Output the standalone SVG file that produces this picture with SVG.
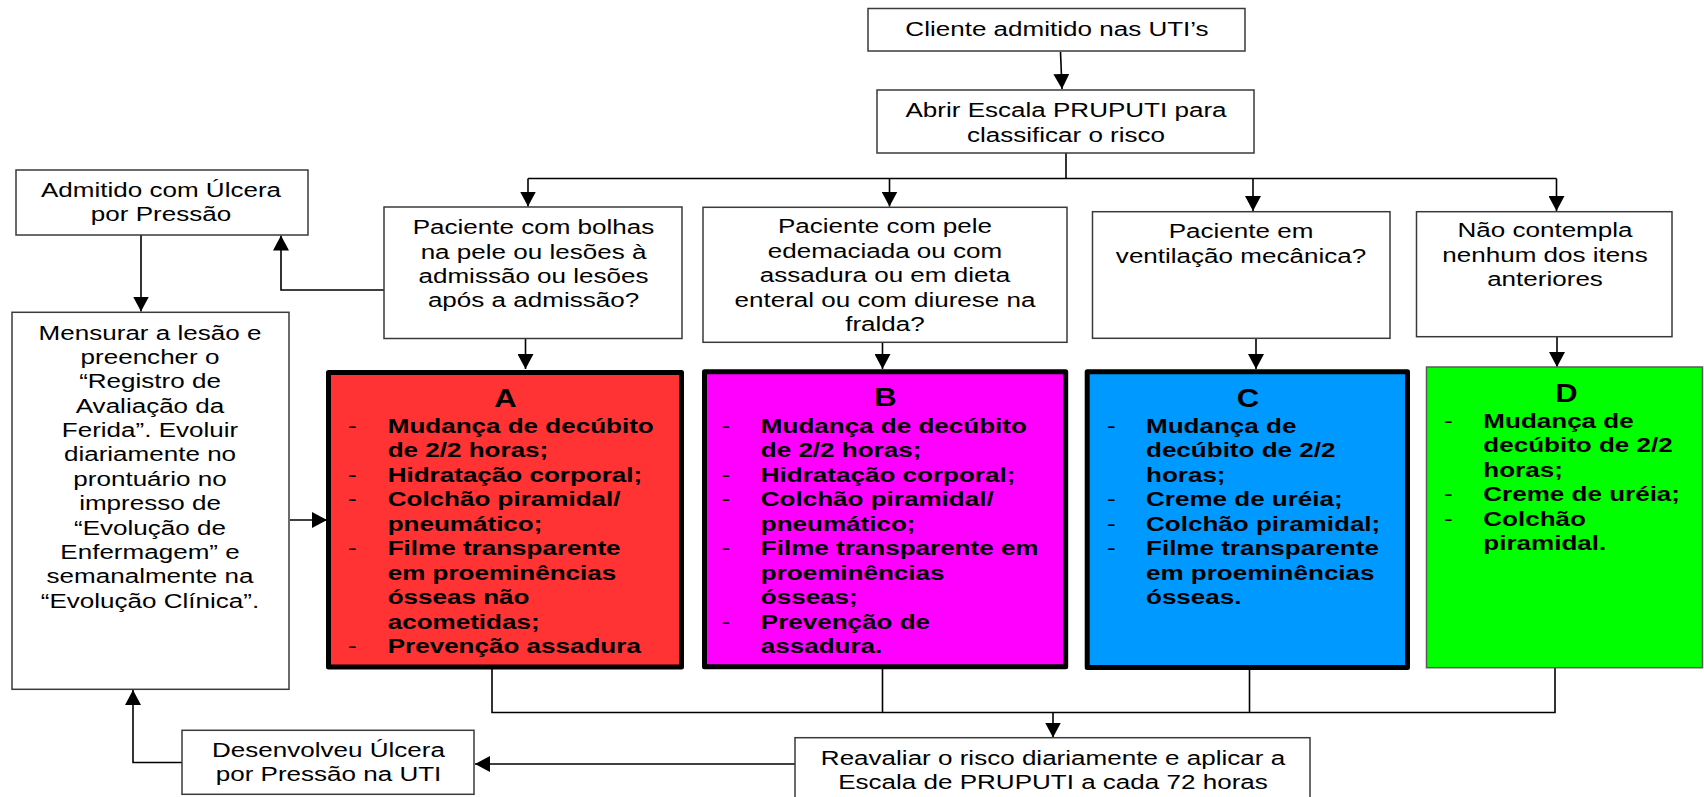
<svg xmlns="http://www.w3.org/2000/svg" width="1704" height="797" viewBox="0 0 1704 797">
<defs>
<style>
.box{fill:#fff;stroke:#3a3a3a;stroke-width:1.5}
.thick{stroke:#000;stroke-width:5;stroke-linejoin:round}
.con{fill:none;stroke:#000;stroke-width:1.6}
.t{font-family:"Liberation Sans",Arial,sans-serif;font-size:21px;fill:#000}
.c{text-anchor:middle}
.b{font-weight:bold}
.h{font-family:"Liberation Sans",Arial,sans-serif;font-weight:bold;font-size:25px;text-anchor:middle;fill:#000}
</style>
<marker id="ah" viewBox="0 0 15 16" refX="15" refY="8" markerWidth="15" markerHeight="16" markerUnits="userSpaceOnUse" orient="auto">
<path d="M0,0 L15,8 L0,16 z" fill="#000"/>
</marker>
</defs>
<rect width="1704" height="797" fill="#fff"/>

<g id="connectors">
<path class="con" d="M1060.5,52 L1062,89" marker-end="url(#ah)"/>
<path class="con" d="M1066,153 V178.5"/>
<path class="con" d="M528,178.5 H1556.5"/>
<path class="con" d="M528,178.5 V206.5" marker-end="url(#ah)"/>
<path class="con" d="M889.5,178.5 V206.5" marker-end="url(#ah)"/>
<path class="con" d="M1253,178.5 V211" marker-end="url(#ah)"/>
<path class="con" d="M1556.5,178.5 V211" marker-end="url(#ah)"/>
<path class="con" d="M384,290 H281 V235.5" marker-end="url(#ah)"/>
<path class="con" d="M141,235 V311.5" marker-end="url(#ah)"/>
<path class="con" d="M525.5,339 V369" marker-end="url(#ah)"/>
<path class="con" d="M882.5,343 V369" marker-end="url(#ah)"/>
<path class="con" d="M1256,339 V369" marker-end="url(#ah)"/>
<path class="con" d="M1557,337 V367" marker-end="url(#ah)"/>
<path class="con" d="M290,520 H327" marker-end="url(#ah)"/>
<path class="con" d="M492,669 V712.5 H1555 V668"/>
<path class="con" d="M882.5,669 V712.5"/>
<path class="con" d="M1249.5,670 V712.5"/>
<path class="con" d="M1053,712.5 V737.5" marker-end="url(#ah)"/>
<path class="con" d="M795,764 H475" marker-end="url(#ah)"/>
<path class="con" d="M182,762.5 H133 V690" marker-end="url(#ah)"/>
</g>

<g id="n-cliente">
<rect class="box" x="868" y="8.5" width="377" height="42.5"/>
<text class="t c" transform="translate(1057,36) scale(1.24,1)">Cliente admitido nas UTI’s</text>
</g>

<g id="n-abrir">
<rect class="box" x="877" y="90" width="377" height="63"/>
<text class="t c" transform="translate(1066,117.3) scale(1.24,1)"><tspan x="0" y="0">Abrir Escala PRUPUTI para</tspan><tspan x="0" y="24.4">classificar o risco</tspan></text>
</g>

<g id="n-admitido">
<rect class="box" x="16" y="170" width="292" height="65"/>
<text class="t c" transform="translate(161,196.7) scale(1.24,1)"><tspan x="0" y="0">Admitido com Úlcera</tspan><tspan x="0" y="24.4">por Pressão</tspan></text>
</g>

<g id="n-q1">
<rect class="box" x="384" y="207" width="298" height="131.5"/>
<text class="t c" transform="translate(533.5,234.3) scale(1.24,1)"><tspan x="0" y="0">Paciente com bolhas</tspan><tspan x="0" y="24.4">na pele ou lesões à</tspan><tspan x="0" y="48.8">admissão ou lesões</tspan><tspan x="0" y="73.2">após a admissão?</tspan></text>
</g>

<g id="n-q2">
<rect class="box" x="703" y="207.3" width="364" height="135"/>
<text class="t c" transform="translate(885,233.3) scale(1.24,1)"><tspan x="0" y="0">Paciente com pele</tspan><tspan x="0" y="24.5">edemaciada ou com</tspan><tspan x="0" y="49">assadura ou em dieta</tspan><tspan x="0" y="73.5">enteral ou com diurese na</tspan><tspan x="0" y="98">fralda?</tspan></text>
</g>

<g id="n-q3">
<rect class="box" x="1092.5" y="211.7" width="297.5" height="126.6"/>
<text class="t c" transform="translate(1241,238.3) scale(1.24,1)"><tspan x="0" y="0">Paciente em</tspan><tspan x="0" y="24.5">ventilação mecânica?</tspan></text>
</g>

<g id="n-q4">
<rect class="box" x="1416.5" y="211.7" width="255.5" height="125"/>
<text class="t c" transform="translate(1545,237.3) scale(1.24,1)"><tspan x="0" y="0">Não contempla</tspan><tspan x="0" y="24.5">nenhum dos itens</tspan><tspan x="0" y="49">anteriores</tspan></text>
</g>

<g id="n-mensurar">
<rect class="box" x="12" y="312.3" width="277" height="377"/>
<text class="t c" transform="translate(150,339.5) scale(1.24,1)"><tspan x="0" y="0">Mensurar a lesão e</tspan><tspan x="0" y="24.4">preencher o</tspan><tspan x="0" y="48.8">“Registro de</tspan><tspan x="0" y="73.2">Avaliação da</tspan><tspan x="0" y="97.6">Ferida”. Evoluir</tspan><tspan x="0" y="122">diariamente no</tspan><tspan x="0" y="146.4">prontuário no</tspan><tspan x="0" y="170.8">impresso de</tspan><tspan x="0" y="195.2">“Evolução de</tspan><tspan x="0" y="219.6">Enfermagem” e</tspan><tspan x="0" y="244">semanalmente na</tspan><tspan x="0" y="268.4">“Evolução Clínica”.</tspan></text>
</g>

<g id="n-a">
<rect class="thick" x="328.5" y="372.5" width="353" height="294.5" fill="#FF3333"/>
<text class="h" transform="translate(505.5,406.7) scale(1.24,1)">A</text>
<text class="t" transform="translate(348,432.7) scale(1.24,1)"><tspan x="0" y="0">-</tspan><tspan x="0" y="49">-</tspan><tspan x="0" y="73.5">-</tspan><tspan x="0" y="122.5">-</tspan><tspan x="0" y="220.5">-</tspan></text>
<text class="t b" transform="translate(387.7,432.7) scale(1.24,1)"><tspan x="0" y="0">Mudança de decúbito</tspan><tspan x="0" y="24.5">de 2/2 horas;</tspan><tspan x="0" y="49">Hidratação corporal;</tspan><tspan x="0" y="73.5">Colchão piramidal/</tspan><tspan x="0" y="98">pneumático;</tspan><tspan x="0" y="122.5">Filme transparente</tspan><tspan x="0" y="147">em proeminências</tspan><tspan x="0" y="171.5">ósseas não</tspan><tspan x="0" y="196">acometidas;</tspan><tspan x="0" y="220.5">Prevenção assadura</tspan></text>
</g>

<g id="n-b">
<rect class="thick" x="704.5" y="371.8" width="361.2" height="295" fill="#FF00FF"/>
<text class="h" transform="translate(885.5,405.7) scale(1.24,1)">B</text>
<text class="t" transform="translate(721.5,433) scale(1.24,1)"><tspan x="0" y="0">-</tspan><tspan x="0" y="49">-</tspan><tspan x="0" y="73.5">-</tspan><tspan x="0" y="122.5">-</tspan><tspan x="0" y="196">-</tspan></text>
<text class="t b" transform="translate(760.8,433) scale(1.24,1)"><tspan x="0" y="0">Mudança de decúbito</tspan><tspan x="0" y="24.5">de 2/2 horas;</tspan><tspan x="0" y="49">Hidratação corporal;</tspan><tspan x="0" y="73.5">Colchão piramidal/</tspan><tspan x="0" y="98">pneumático;</tspan><tspan x="0" y="122.5">Filme transparente em</tspan><tspan x="0" y="147">proeminências</tspan><tspan x="0" y="171.5">ósseas;</tspan><tspan x="0" y="196">Prevenção de</tspan><tspan x="0" y="220.5">assadura.</tspan></text>
</g>

<g id="n-c">
<rect class="thick" x="1087.2" y="371.8" width="320.3" height="295.7" fill="#0099FF"/>
<text class="h" transform="translate(1248,406.7) scale(1.24,1)">C</text>
<text class="t" transform="translate(1107,432.7) scale(1.24,1)"><tspan x="0" y="0">-</tspan><tspan x="0" y="73.5">-</tspan><tspan x="0" y="98">-</tspan><tspan x="0" y="122.5">-</tspan></text>
<text class="t b" transform="translate(1146,432.7) scale(1.24,1)"><tspan x="0" y="0">Mudança de</tspan><tspan x="0" y="24.5">decúbito de 2/2</tspan><tspan x="0" y="49">horas;</tspan><tspan x="0" y="73.5">Creme de uréia;</tspan><tspan x="0" y="98">Colchão piramidal;</tspan><tspan x="0" y="122.5">Filme transparente</tspan><tspan x="0" y="147">em proeminências</tspan><tspan x="0" y="171.5">ósseas.</tspan></text>
</g>

<g id="n-d">
<rect x="1426.5" y="367" width="276" height="300.7" fill="#00FF00" stroke="#5a5a5a" stroke-width="1.5"/>
<text class="h" transform="translate(1566.5,402.3) scale(1.24,1)">D</text>
<text class="t" transform="translate(1444,427.7) scale(1.24,1)"><tspan x="0" y="0">-</tspan><tspan x="0" y="73.5">-</tspan><tspan x="0" y="98">-</tspan></text>
<text class="t b" transform="translate(1483.3,427.7) scale(1.24,1)"><tspan x="0" y="0">Mudança de</tspan><tspan x="0" y="24.5">decúbito de 2/2</tspan><tspan x="0" y="49">horas;</tspan><tspan x="0" y="73.5">Creme de uréia;</tspan><tspan x="0" y="98">Colchão</tspan><tspan x="0" y="122.5">piramidal.</tspan></text>
</g>

<g id="n-reavaliar">
<rect class="box" x="795" y="737.7" width="515" height="70"/>
<text class="t c" transform="translate(1053,765.3) scale(1.24,1)"><tspan x="0" y="0">Reavaliar o risco diariamente e aplicar a</tspan><tspan x="0" y="24.2">Escala de PRUPUTI a cada 72 horas</tspan></text>
</g>

<g id="n-desenvolveu">
<rect class="box" x="182" y="730.3" width="292" height="64"/>
<text class="t c" transform="translate(328.5,756.7) scale(1.24,1)"><tspan x="0" y="0">Desenvolveu Úlcera</tspan><tspan x="0" y="24.6">por Pressão na UTI</tspan></text>
</g>
</svg>
